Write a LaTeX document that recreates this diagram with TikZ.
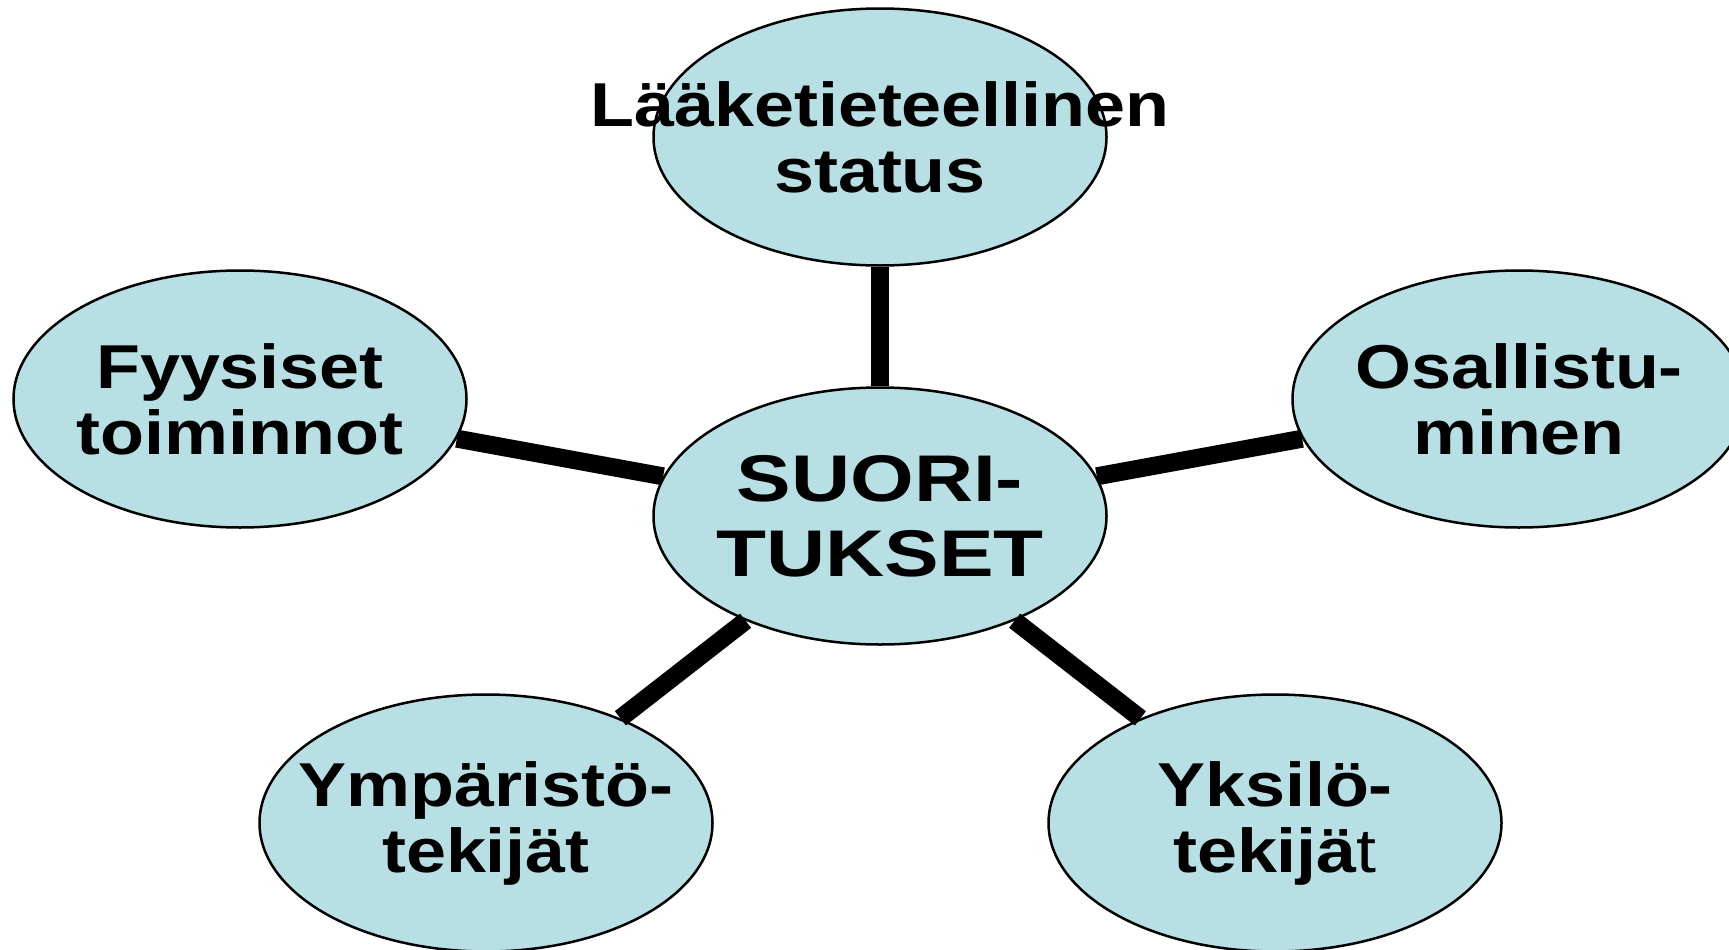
\documentclass[tikz,border=0pt]{standalone}
\usepackage{fontspec}
\usetikzlibrary{shapes.geometric}
\newfontfamily\labfont{Liberation Sans}[FakeStretch=1.16]
\newfontfamily\midfont{Liberation Sans}[FakeStretch=1.24]
\definecolor{bubble}{HTML}{B8DFE3}
\begin{document}
\begin{tikzpicture}[x=1pt,y=-1pt,
  bub/.style={ellipse,draw=black,line width=2.5pt,fill=bubble,minimum width=453pt,minimum height=257pt,inner sep=0pt},
  lab/.style={align=center,font=\labfont\bfseries\fontsize{62}{66}\selectfont,inner sep=0pt},
  midlab/.style={align=center,font=\midfont\bfseries\fontsize{66}{75}\selectfont,inner sep=0pt},
  spoke/.style={line width=18pt,black}]
\useasboundingbox (0,0) rectangle (1729,950);
\node[bub] (T) at (880,137) {};
\node[bub] (C) at (880,516) {};
\node[bub] (L) at (240,399) {};
\node[bub] (R) at (1519,399) {};
\node[bub] (BL) at (486,823) {};
\node[bub] (BR) at (1275,823) {};
\draw[spoke] (C) -- (T);
\draw[spoke] (C) -- (L);
\draw[spoke] (C) -- (R);
\draw[spoke] (C) -- (BL);
\draw[spoke] (C) -- (BR);
\node[lab] (tT) at (T.center) {Lääketieteellinen\\status};
\node[midlab] (tC) at (C.center) {SUORI-\\TUKSET};
\node[lab] (tL) at (L.center) {Fyysiset\\toiminnot};
\node[lab] (tR) at (R.center) {Osallistu-\\minen};
\node[lab] (tBL) at (BL.center) {Ympäristö-\\tekijät};
\node[lab] (tBR) at (BR.center) {Yksilö-\\tekijä{\mdseries t}};
\end{tikzpicture}
\end{document}
